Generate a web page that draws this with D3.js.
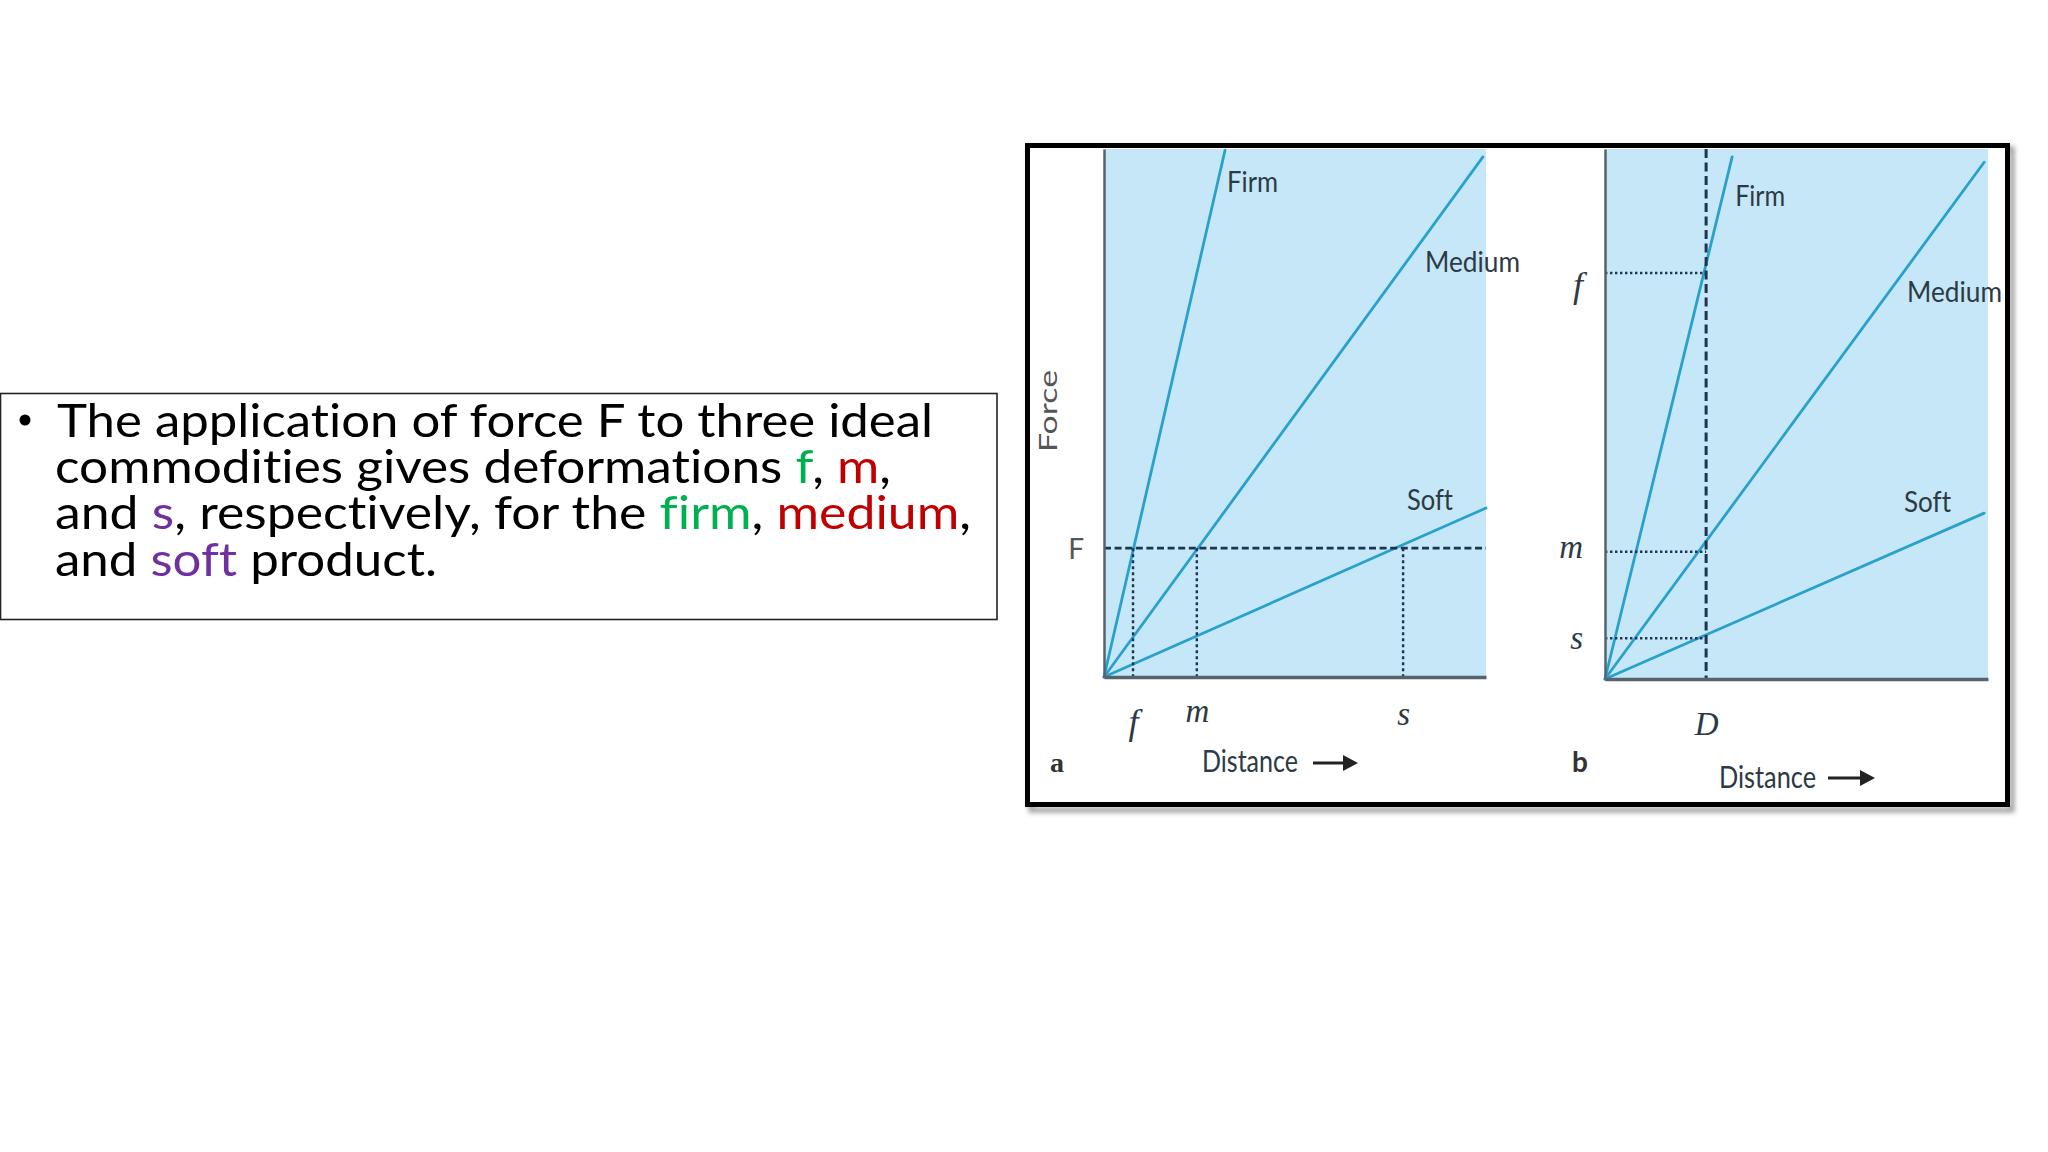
<!DOCTYPE html>
<html>
<head>
<meta charset="utf-8">
<script src="https://cdn.jsdelivr.net/npm/d3@7"></script>
<style>
  html, body { margin: 0; padding: 0; background: #fff; }
  svg { display: block; }
  text { font-variant-ligatures: none; font-feature-settings: "liga" 0, "clig" 0; }
</style>
</head>
<body>
<svg id="slide" width="2048" height="1152"></svg>
<script>
/* SECTION: data (plot box = 0..100 on both axes) */

var seriesNames = ["Firm", "Medium", "Soft"];

// panel a: same force F, three deformations
var aEndX = [31.7, 99.2, 100];
var aEndY = [99.8, 98.5, 32.0];
var aForce = 24.4;
var aForceLabel = "F";
var aDeform = [7.6, 24.3, 78.3];
var aDeformLabels = ["f", "m", "s"];

// panel b: same distance D, three forces
var bEndX = [33.2, 99.0, 99.0];
var bEndY = [98.5, 97.5, 31.3];
var bDist = 26.4;
var bDistLabel = "D";
var bForce = [76.6, 24.0, 7.7];
var bForceLabels = ["f", "m", "s"];

// slide text, one entry per line, each a list of [text, colour key]
var bulletLines = [
  [["The application of force F to three ideal", "k"]],
  [["commodities gives deformations ", "k"], ["f", "g"], [", ", "k"], ["m", "r"], [",", "k"]],
  [["and ", "k"], ["s", "p"], [", respectively, for the ", "k"], ["firm", "g"], [", ", "k"], ["medium", "r"], [",", "k"]],
  [["and ", "k"], ["soft", "p"], [" product.", "k"]]
];

/* SECTION: styles */

var textColors = { k: "#000", g: "#00B050", r: "#C00000", p: "#7030A0" };
var lineWidths = [878, 836, 916, 382];
var lineColor = "#29a1cb";
var guideColor = "#1d3550";
var axisColor = "#56636c";
var fillBlue = "#c6e7f8";
var labelColor = "#2c3a45";
var figFont = "Lato, 'Open Sans', sans-serif";
var italFont = "'Liberation Serif', 'DejaVu Serif', serif";

var svg = d3.select("#slide");
svg.append("rect").attr("width", 2048).attr("height", 1152).attr("fill", "#fff");

/* SECTION: text box */

svg.append("rect")
  .attr("x", 0.5).attr("y", 393.5).attr("width", 996.5).attr("height", 226)
  .attr("fill", "none").attr("stroke", "#222").attr("stroke-width", 1.6);

svg.append("circle").attr("cx", 25).attr("cy", 420).attr("r", 5.5).attr("fill", "#000");

var baselines = [437, 483, 529, 576];
bulletLines.forEach(function(parts, i) {
  var t = svg.append("text")
    .attr("x", i == 0 ? 57 : 55).attr("y", baselines[i])
    .attr("font-family", "Lato, 'Open Sans', sans-serif")
    .attr("font-size", 46)
    .attr("textLength", lineWidths[i] - (i == 0 ? 2 : 0))
    .attr("lengthAdjust", "spacingAndGlyphs")
    .style("white-space", "pre");
  parts.forEach(function(p) {
    t.append("tspan").attr("fill", textColors[p[1]]).text(p[0]);
  });
});

/* SECTION: figure frame */

var defs = svg.append("defs");
var shadow = defs.append("filter").attr("id", "shadow").attr("x", "-5%").attr("y", "-5%")
  .attr("width", "110%").attr("height", "110%");
shadow.append("feGaussianBlur").attr("stdDeviation", 2.5);

svg.append("rect")
  .attr("x", 1031).attr("y", 149).attr("width", 981).attr("height", 661)
  .attr("fill", "none").attr("stroke", "#9a9a9a").attr("stroke-width", 5)
  .attr("filter", "url(#shadow)");
svg.append("rect")
  .attr("x", 1027.5).attr("y", 145.5).attr("width", 980).attr("height", 659)
  .attr("fill", "#fff").attr("stroke", "#000").attr("stroke-width", 5);

function label(g, txt, x, y, opts) {
  opts = opts || {};
  var t = g.append("text").attr("x", x).attr("y", y)
    .attr("font-family", opts.family || figFont)
    .attr("font-size", opts.size || 28)
    .attr("font-style", opts.italic ? "italic" : null)
    .attr("font-weight", opts.bold ? "bold" : null)
    .attr("text-anchor", opts.anchor || "start")
    .attr("fill", opts.color || labelColor)
    .text(txt);
  if (opts.width) t.attr("textLength", opts.width).attr("lengthAdjust", "spacingAndGlyphs");
  if (opts.rotate) t.attr("transform", "rotate(-90," + x + "," + y + ")");
  return t;
}

function arrow(g, x0, x1, y) {
  g.append("line").attr("x1", x0).attr("x2", x1 - 12).attr("y1", y).attr("y2", y)
    .attr("stroke", "#222").attr("stroke-width", 3.2);
  g.append("path")
    .attr("d", "M" + (x1 - 15) + "," + (y - 8) + "L" + x1 + "," + y + "L" + (x1 - 15) + "," + (y + 8) + "Z")
    .attr("fill", "#222");
}

var lineGen = d3.line().x(function(d) { return d[0]; }).y(function(d) { return d[1]; });

function panel(box) {
  var g = svg.append("g");
  var x = d3.scaleLinear().domain([0, 100]).range([box.x0, box.x1]);
  var y = d3.scaleLinear().domain([0, 100]).range([box.y0, box.y1]);
  g.append("rect").attr("x", box.x0).attr("y", box.y1)
    .attr("width", box.x1 - box.x0).attr("height", box.y0 - box.y1).attr("fill", fillBlue);
  return { g: g, x: x, y: y };
}

function drawLines(p, endX, endY) {
  p.g.selectAll("path.series").data(seriesNames).enter().append("path")
    .attr("class", "series")
    .attr("d", function(d, i) {
      return lineGen([[p.x(0), p.y(0)], [p.x(endX[i]), p.y(endY[i])]]);
    })
    .attr("fill", "none").attr("stroke", lineColor).attr("stroke-width", 2.8)
    .attr("stroke-linecap", "round");
}

/* SECTION: panel a */

var pa = panel({ x0: 1104, x1: 1486, y0: 677, y1: 149 });
drawLines(pa, aEndX, aEndY);

pa.g.append("line")
  .attr("x1", pa.x(0)).attr("x2", pa.x(100)).attr("y1", pa.y(aForce)).attr("y2", pa.y(aForce))
  .attr("stroke", guideColor).attr("stroke-width", 2.6).attr("stroke-dasharray", "7,3.6");
pa.g.selectAll("line.drop").data(aDeform).enter().append("line")
  .attr("class", "drop")
  .attr("x1", function(d) { return pa.x(d); }).attr("x2", function(d) { return pa.x(d); })
  .attr("y1", pa.y(aForce)).attr("y2", pa.y(0))
  .attr("stroke", guideColor).attr("stroke-width", 2.4).attr("stroke-dasharray", "3,3");

var aBottom = pa.g.append("g").attr("transform", "translate(0," + pa.y(0) + ")")
  .call(d3.axisBottom(pa.x).tickValues(aDeform)
    .tickFormat(function(d, i) { return aDeformLabels[i]; }).tickSize(0).tickSizeOuter(0));
var aLeft = pa.g.append("g").attr("transform", "translate(" + pa.x(0) + ",0)")
  .call(d3.axisLeft(pa.y).tickValues([aForce])
    .tickFormat(function() { return aForceLabel; }).tickSize(0).tickSizeOuter(0).tickPadding(20));

aBottom.select(".domain").attr("stroke", axisColor).attr("stroke-width", 3.5);
aLeft.select(".domain").attr("stroke", axisColor).attr("stroke-width", 2.5);
var aBotY = [57, 45, 48];
aBottom.selectAll(".tick text")
  .attr("dy", null).attr("y", function(d, i) { return aBotY[i]; })
  .attr("font-family", italFont).attr("font-style", "italic")
  .attr("font-size", function(d, i) { return i == 0 ? 36 : 33; })
  .attr("fill", labelColor);
aLeft.selectAll(".tick text")
  .attr("dy", "0.36em").attr("font-family", figFont).attr("font-size", 28).attr("fill", "#555");

label(pa.g, seriesNames[0], pa.x(aEndX[0]) + 2, 192, { width: 51 });
label(pa.g, seriesNames[1], 1425, 272, { width: 95 });
label(pa.g, seriesNames[2], 1407, 510, { width: 46 });
label(pa.g, "Force", 1057, 452, { width: 82, size: 25, rotate: true, color: "#555" });
label(pa.g, "a", 1050, 772, { bold: true, size: 28, family: "'Liberation Serif', serif", color: "#333" });
label(pa.g, "Distance", 1202, 772, { width: 96, size: 30 });
arrow(pa.g, 1313, 1358, 763);

/* SECTION: panel b */

var pb = panel({ x0: 1605, x1: 1988, y0: 679, y1: 149 });
drawLines(pb, bEndX, bEndY);

pb.g.append("line")
  .attr("x1", pb.x(bDist)).attr("x2", pb.x(bDist)).attr("y1", pb.y(100)).attr("y2", pb.y(0))
  .attr("stroke", guideColor).attr("stroke-width", 3).attr("stroke-dasharray", "9,4.5");
pb.g.selectAll("line.across").data(bForce).enter().append("line")
  .attr("class", "across")
  .attr("x1", pb.x(0)).attr("x2", pb.x(bDist))
  .attr("y1", function(d) { return pb.y(d); }).attr("y2", function(d) { return pb.y(d); })
  .attr("stroke", guideColor).attr("stroke-width", 2.6).attr("stroke-dasharray", "2.4,2.6");

var bBottom = pb.g.append("g").attr("transform", "translate(0," + pb.y(0) + ")")
  .call(d3.axisBottom(pb.x).tickValues([bDist])
    .tickFormat(function() { return bDistLabel; }).tickSize(0).tickSizeOuter(0));
var bLeft = pb.g.append("g").attr("transform", "translate(" + pb.x(0) + ",0)")
  .call(d3.axisLeft(pb.y).tickValues(bForce)
    .tickFormat(function(d, i) { return bForceLabels[i]; }).tickSize(0).tickSizeOuter(0).tickPadding(22));

bBottom.select(".domain").attr("stroke", axisColor).attr("stroke-width", 3.5);
bLeft.select(".domain").attr("stroke", axisColor).attr("stroke-width", 2.5);
bBottom.selectAll(".tick text")
  .attr("dy", null).attr("y", 56)
  .attr("font-family", italFont).attr("font-style", "italic").attr("font-size", 33)
  .attr("fill", labelColor);
var bLeftDy = [23, 6, 10];
bLeft.selectAll(".tick text")
  .attr("dy", function(d, i) { return bLeftDy[i]; })
  .attr("font-family", italFont).attr("font-style", "italic")
  .attr("font-size", function(d, i) { return i == 0 ? 36 : 33; })
  .attr("fill", labelColor);

label(pb.g, seriesNames[0], pb.x(bEndX[0]) + 3, 206, { width: 50 });
label(pb.g, seriesNames[1], 1907, 302, { width: 95 });
label(pb.g, seriesNames[2], 1904, 512, { width: 47 });
label(pb.g, "b", 1572, 772, { bold: true, size: 28, color: "#333" });
label(pb.g, "Distance", 1719, 788, { width: 97, size: 30 });
arrow(pb.g, 1828, 1875, 778);
</script>
</body>
</html>
